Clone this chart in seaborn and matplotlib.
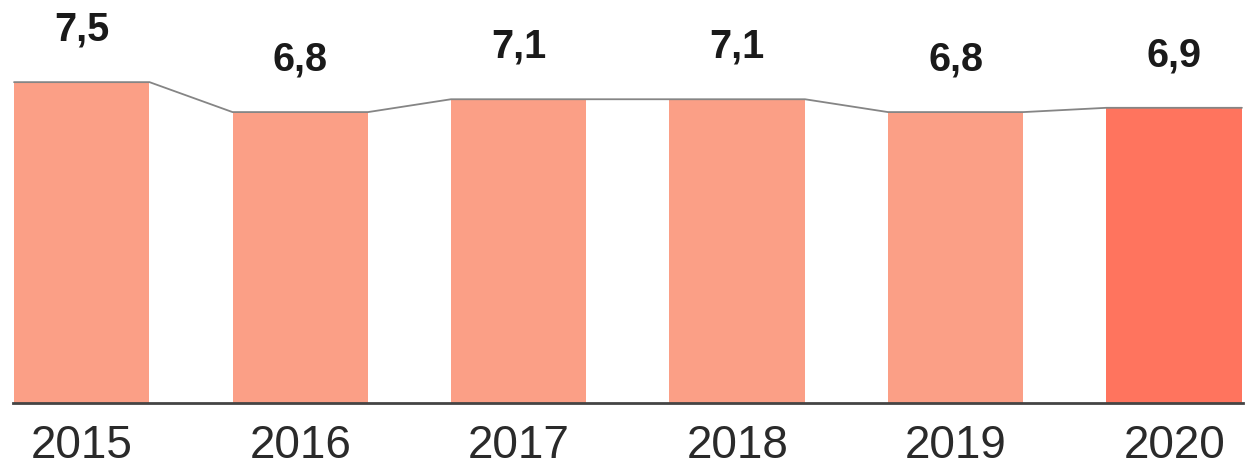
import matplotlib
matplotlib.use("Agg")
import matplotlib.pyplot as plt
import seaborn as sns
import pandas as pd
import numpy as np

years = ["2015", "2016", "2017", "2018", "2019", "2020"]
values = [7.5, 6.8, 7.1, 7.1, 6.8, 6.9]
labels = ["7,5", "6,8", "7,1", "7,1", "6,8", "6,9"]
bar_colors = ["#FB9F86", "#FB9F86", "#FB9F86", "#FB9F86", "#FB9F86", "#FF745E"]

sns.set_theme(style="white")
plt.rcParams["font.family"] = ["Liberation Sans", "DejaVu Sans"]

df = pd.DataFrame({"year": years, "value": values})

fig = plt.figure(figsize=(12.45, 4.71), dpi=100)
ax = fig.add_axes([0.0104, 0.1444, 0.988, 0.8556])

width = 0.62
sns.barplot(data=df, x="year", y="value", hue="year", palette=bar_colors,
            width=width, legend=False, ax=ax, saturation=1, linewidth=0)

# connecting line across bar tops
xs, ys = [], []
for i, v in enumerate(values):
    xs += [i - width / 2, i + width / 2]
    ys += [v, v]
ax.plot(xs, ys, color="#858585", linewidth=1.3, zorder=3)

for i, (v, lab) in enumerate(zip(values, labels)):
    ax.annotate(lab, (i, v), xytext=(0, 24), textcoords="offset points",
                ha="center", va="bottom", fontsize=28.5, fontweight="bold",
                color="#1a1a1a")

ax.set_xlim(-width / 2 - 0.005, len(years) - 1 + width / 2 + 0.005)
ax.set_ylim(0, 9.42)
ax.set_xlabel("")
ax.set_ylabel("")
ax.set_yticks([])
ax.tick_params(axis="x", length=0, pad=15, labelsize=33, labelcolor="#2a2a2a")
for s in ["top", "right", "left"]:
    ax.spines[s].set_visible(False)
ax.spines["bottom"].set_color("#444444")
ax.spines["bottom"].set_linewidth(2)

fig.savefig("out.png", dpi=100)
